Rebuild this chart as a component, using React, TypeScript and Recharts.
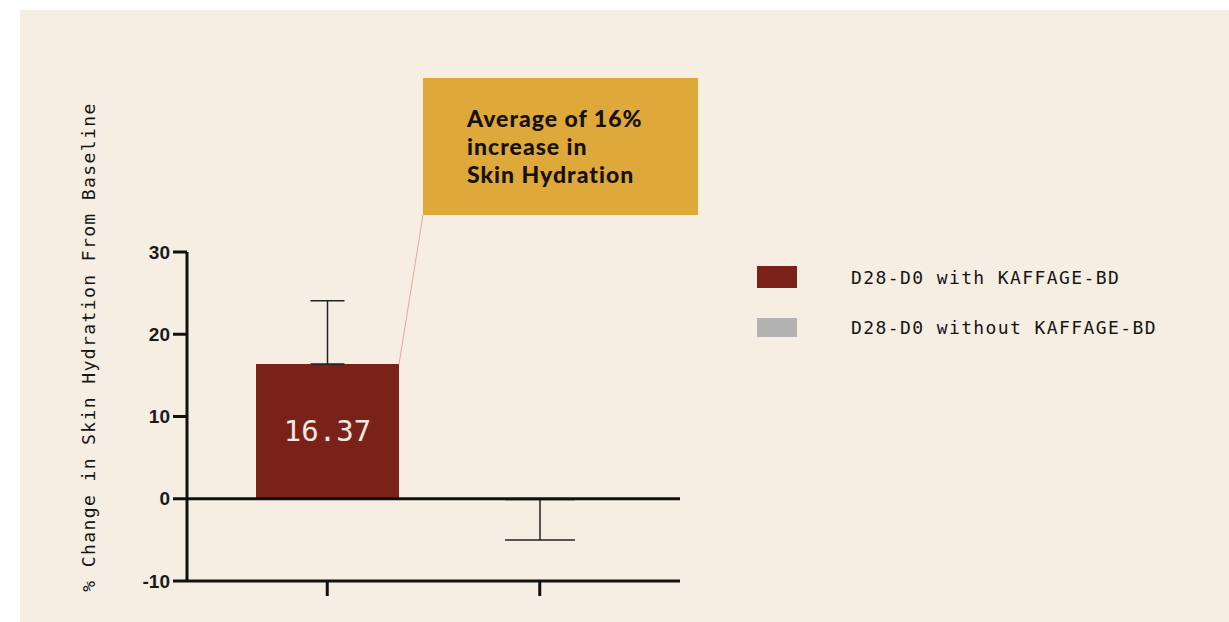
import React from "react";
import {
  BarChart,
  Bar,
  XAxis,
  YAxis,
  ErrorBar,
  Cell,
  LabelList,
  ReferenceLine,
} from "recharts";

const groups = ["D28-D0 with KAFFAGE-BD", "D28-D0 without KAFFAGE-BD"];
const means = [16.37, -0.1];
const errUp = [7.7, 0];
const errDown = [0, 4.9];
const colors = ["#7a2219", "#b3b3b3"];
const yTicks = [-10, 0, 10, 20, 30];
const callout = ["Average of 16%", "increase in", "Skin Hydration"];

const data = groups.map((name, i) => ({
  name,
  value: means[i],
  errWith: i === 0 ? [errDown[i], errUp[i]] : null,
  errWithout: i === 1 ? [errDown[i], errUp[i]] : null,
}));

const mono = "'DejaVu Sans Mono', 'Liberation Mono', monospace";

// value text in the bar + leader line from the first bar to the callout box
function BarLabel(props: any) {
  const { x, y, width, height, index, value } = props;
  if (index !== 0) return null;
  return (
    <g>
      <line
        x1={x + width}
        y1={y}
        x2={423}
        y2={215}
        stroke="#e2a897"
        strokeWidth={1}
      />
      <text
        x={x + width / 2}
        y={y + height / 2}
        textAnchor="middle"
        dominantBaseline="central"
        fill="#f4e8e2"
        fontSize={29}
        fontFamily={mono}
      >
        {value.toFixed(2)}
      </text>
    </g>
  );
}

export default function App() {
  return (
    <div
      style={{
        position: "absolute",
        left: 0,
        top: 0,
        width: 1229,
        height: 622,
        background: "#ffffff",
        overflow: "hidden",
      }}
    >
      <div
        style={{
          position: "absolute",
          left: 20,
          top: 10,
          width: 1209,
          height: 612,
          background: "#f6eee3",
        }}
      />
      <div style={{ position: "absolute", left: 0, top: 0 }}>
        <BarChart
          width={1229}
          height={622}
          data={data}
          margin={{ top: 252, right: 549, bottom: 11, left: 127 }}
        >
          <XAxis
            dataKey="name"
            padding={{ left: 34, right: 34 }}
            axisLine={{ stroke: "#111", strokeWidth: 3 }}
            tickLine={{ stroke: "#111", strokeWidth: 3 }}
            tickSize={15}
            tickFormatter={() => ""}
            height={30}
          />
          <YAxis
            width={60}
            domain={[-10, 30]}
            ticks={yTicks}
            interval={0}
            axisLine={{ stroke: "#111", strokeWidth: 3 }}
            tickLine={{ stroke: "#111", strokeWidth: 3 }}
            tickSize={14}
            tickMargin={3}
            tick={{
              fill: "#1a1a1a",
              fontSize: 19,
              fontWeight: 700,
              fontFamily: "'Liberation Sans', Arial, sans-serif",
            }}
          />
          <Bar dataKey="value" barSize={143} isAnimationActive={false}>
            {data.map((d, i) => (
              <Cell key={d.name} fill={colors[i]} />
            ))}
            <ErrorBar
              dataKey="errWith"
              width={17}
              stroke="#222"
              strokeWidth={1.5}
              direction="y"
            />
            <ErrorBar
              dataKey="errWithout"
              width={35}
              stroke="#222"
              strokeWidth={1.5}
              direction="y"
            />
            <LabelList dataKey="value" content={BarLabel} />
          </Bar>
          <ReferenceLine y={0} stroke="#111" strokeWidth={3} />
        </BarChart>
      </div>

      {/* y axis title */}
      <div
        style={{
          position: "absolute",
          left: 88,
          top: 347,
          transform: "translate(-50%, -50%) rotate(-90deg)",
          whiteSpace: "nowrap",
          fontFamily: mono,
          fontSize: 18,
          letterSpacing: 1.4,
          color: "#151515",
        }}
      >
        % Change in Skin Hydration From Baseline
      </div>

      {/* callout box */}
      <div
        style={{
          position: "absolute",
          left: 423,
          top: 78,
          width: 275,
          height: 137,
          boxSizing: "border-box",
          background: "#dea83b",
          padding: "26px 0 0 44px",
          fontFamily: "Lato, 'Open Sans', sans-serif",
          fontWeight: 900,
          fontSize: 23,
          letterSpacing: 1,
          lineHeight: "28px",
          color: "#16110a",
        }}
      >
        {callout.map((t) => (
          <div key={t}>{t}</div>
        ))}
      </div>

      {/* legend */}
      {groups.map((g, i) => (
        <div
          key={g}
          style={{
            position: "absolute",
            left: 757,
            top: i === 0 ? 266 : 316,
            height: 22,
            display: "flex",
            alignItems: "center",
          }}
        >
          <div
            style={{
              width: 40,
              height: i === 0 ? 22 : 19,
              background: colors[i],
            }}
          />
          <div
            style={{
              marginLeft: 54,
              fontFamily: mono,
              fontSize: 18,
              letterSpacing: 1.4,
              color: "#151515",
              whiteSpace: "nowrap",
            }}
          >
            {g}
          </div>
        </div>
      ))}
    </div>
  );
}
